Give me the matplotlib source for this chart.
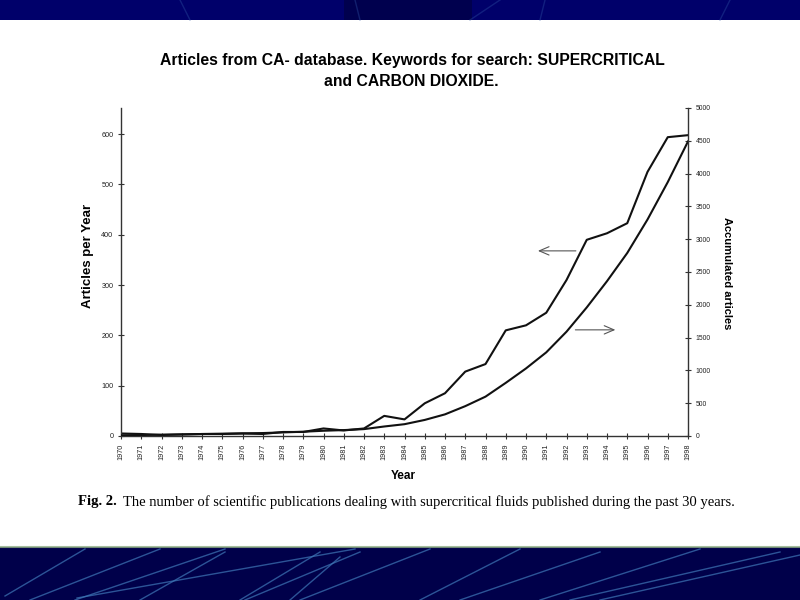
import matplotlib
matplotlib.use("Agg")
import matplotlib.pyplot as plt
from matplotlib.patches import Rectangle
from matplotlib.lines import Line2D

years = list(range(1970, 1999))
annual = [5, 4, 2, 3, 4, 4, 5, 4, 8, 8, 15, 11, 15, 40, 33, 65, 85, 128, 143,
          210, 220, 245, 310, 390, 403, 423, 525, 594, 598]
accumulated = [10, 15, 20, 25, 30, 35, 40, 45, 55, 65, 80, 90, 105, 145, 180,
               245, 330, 455, 600, 810, 1030, 1275, 1590, 1960, 2360, 2790,
               3300, 3870, 4490]
left_ticks = [0, 100, 200, 300, 400, 500, 600]
right_ticks = list(range(0, 5001, 500))

title1 = "Articles from CA- database. Keywords for search: SUPERCRITICAL"
title2 = "and CARBON DIOXIDE."
caption_bold = "Fig. 2."
caption_rest = ("The number of scientific publications dealing with supercritical "
                "fluids published during the past 30 years.")

W, H = 800, 600
fig = plt.figure(figsize=(8, 6), dpi=100)
fig.patch.set_facecolor("white")

def fx(px):
    return px / W

def fy(py):
    return 1 - py / H

# slide decoration: top and bottom bands
fig.patches.append(Rectangle((0, fy(20)), 1, 20 / H, transform=fig.transFigure,
                             facecolor="#00006a", edgecolor="none", zorder=0))
fig.patches.append(Rectangle((0.43, fy(20)), 0.16, 20 / H, transform=fig.transFigure,
                             facecolor="#00004e", edgecolor="none", zorder=0))
fig.patches.append(Rectangle((0, 0), 1, 53 / H, transform=fig.transFigure,
                             facecolor="#00004a", edgecolor="none", zorder=0))
fig.lines.append(Line2D([0, 1], [fy(547), fy(547)], transform=fig.transFigure,
                        color="#8fae86", lw=1.5, alpha=0.8, zorder=1))
streaks = [((5, 596), (85, 549)), ((30, 600), (160, 549)), ((75, 600), (225, 549)),
           ((77, 598), (355, 549)), ((140, 600), (225, 552)), ((240, 600), (320, 552)),
           ((245, 600), (360, 552)), ((290, 600), (340, 557)), ((300, 600), (430, 549)),
           ((420, 600), (520, 549)), ((460, 600), (600, 552)), ((540, 600), (700, 549)),
           ((570, 600), (780, 552)), ((600, 600), (800, 555))]
for (x0, y0), (x1, y1) in streaks:
    fig.lines.append(Line2D([fx(x0), fx(x1)], [fy(y0), fy(y1)], transform=fig.transFigure,
                            color="#3f78b8", lw=1.0, alpha=0.7, zorder=1))
for (x0, y0), (x1, y1) in [((190, 20), (180, 0)), ((360, 20), (355, 0)),
                           ((470, 20), (500, 0)), ((540, 20), (545, 0)), ((720, 20), (730, 0))]:
    fig.lines.append(Line2D([fx(x0), fx(x1)], [fy(y0), fy(y1)], transform=fig.transFigure,
                            color="#2c4fa0", lw=1.0, alpha=0.4, zorder=1))

# chart
left, right, top, bottom = 121, 688, 108, 436
ax = fig.add_axes([fx(left), fy(bottom), (right - left) / W, (bottom - top) / H])
ax.set_facecolor("none")
ax.plot(years, annual, color="#111111", lw=1.5)
ax.set_xlim(1970, 1998)
ax.set_ylim(0, 652)
ax.spines["top"].set_visible(False)
ax.spines["right"].set_visible(False)
for s in ["left", "bottom"]:
    ax.spines[s].set_color("#333333")
    ax.spines[s].set_linewidth(1.0)
ax.set_yticks(left_ticks)
ax.set_yticklabels([str(v) for v in left_ticks], fontsize=5.2, family="Liberation Sans",
                   color="#222222")
ax.set_xticks(years)
ax.set_xticklabels([str(y) for y in years], fontsize=5.2, rotation=90,
                   family="Liberation Sans", color="#222222")
ax.tick_params(direction="inout", length=5, width=0.8, color="#333333", pad=3)

ax2 = ax.twinx()
ax2.plot(years, accumulated, color="#111111", lw=1.5)
ax2.set_ylim(0, 5000)
ax2.spines["top"].set_visible(False)
ax2.spines["left"].set_visible(False)
ax2.spines["bottom"].set_visible(False)
ax2.spines["right"].set_color("#333333")
ax2.spines["right"].set_linewidth(1.0)
ax2.set_yticks(right_ticks)
ax2.set_yticklabels([str(v) for v in right_ticks], fontsize=4.9, family="Liberation Sans",
                    color="#222222")
ax2.tick_params(direction="inout", length=5, width=0.8, color="#333333", pad=3)

# arrows pointing to the respective axes
arrow_style = dict(arrowstyle="->,head_length=0.7,head_width=0.3", color="#555555", lw=0.8)
ax.annotate("", xy=(1990.45, 368), xytext=(1992.6, 368), arrowprops=arrow_style)
ax.annotate("", xy=(1994.55, 211), xytext=(1992.3, 211), arrowprops=arrow_style)

# texts
fig.text(fx(412), fy(61), title1, ha="center", va="center", fontsize=11.3,
         fontweight="bold", family="Liberation Sans")
fig.text(fx(411), fy(82), title2, ha="center", va="center", fontsize=11.3,
         fontweight="bold", family="Liberation Sans")
fig.text(fx(88), fy(256), "Articles per Year", ha="center", va="center", rotation=90,
         fontsize=9.5, fontweight="bold", family="Liberation Sans")
fig.text(fx(727), fy(273), "Accumulated articles", ha="center", va="center", rotation=-90,
         fontsize=8, fontweight="bold", family="Liberation Sans")
fig.text(fx(403), fy(476), "Year", ha="center", va="center",
         fontsize=8.5, fontweight="bold", family="Liberation Sans")

t1 = fig.text(fx(78), fy(502), caption_bold, ha="left", va="center", fontsize=10.55,
              fontweight="bold", family="Liberation Serif")
renderer = fig.canvas.get_renderer()
bb = t1.get_window_extent(renderer)
fig.text(bb.x1 / W + fx(6), fy(502), caption_rest, ha="left", va="center",
         fontsize=10.55, family="Liberation Serif")

fig.savefig("out.png", dpi=100)
